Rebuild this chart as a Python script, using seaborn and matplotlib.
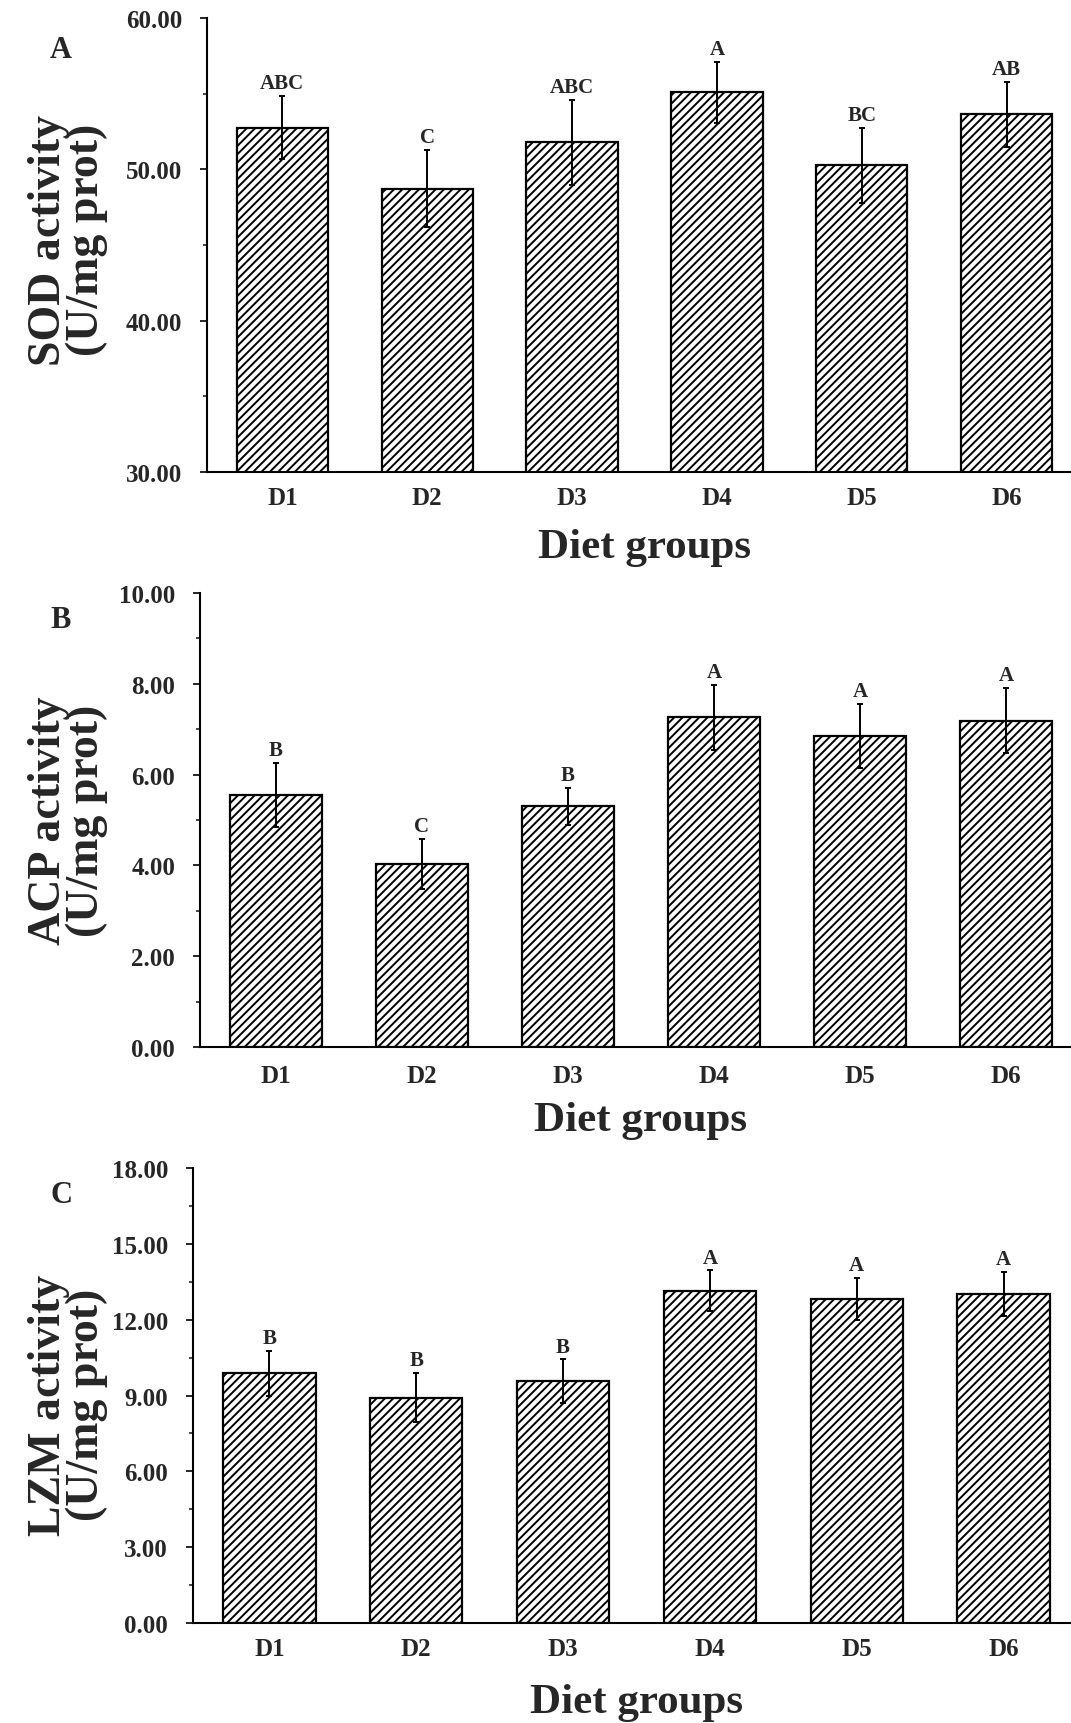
import numpy as np
import seaborn as sns
import matplotlib
matplotlib.use('Agg')
import matplotlib.pyplot as plt
from matplotlib.ticker import AutoMinorLocator, FormatStrFormatter

groups = ['D1', 'D2', 'D3', 'D4', 'D5', 'D6']

# SOD activity (U/mg prot)
sod_mean = [52.75, 48.71, 51.78, 55.09, 50.27, 53.65]
sod_err = [2.10, 2.55, 2.79, 2.00, 2.48, 2.15]
sod_letters = ['ABC', 'C', 'ABC', 'A', 'BC', 'AB']

# ACP activity (U/mg prot)
acp_mean = [5.55, 4.03, 5.30, 7.26, 6.85, 7.19]
acp_err = [0.70, 0.55, 0.40, 0.71, 0.71, 0.72]
acp_letters = ['B', 'C', 'B', 'A', 'A', 'A']

# LZM activity (U/mg prot)
lzm_mean = [9.88, 8.92, 9.56, 13.14, 12.81, 13.01]
lzm_err = [0.90, 0.96, 0.87, 0.81, 0.83, 0.88]
lzm_letters = ['B', 'B', 'B', 'A', 'A', 'A']

sns.set_style('ticks')
plt.rcParams['font.family'] = ['Liberation Serif', 'DejaVu Serif']
plt.rcParams['font.weight'] = 'bold'
plt.rcParams['hatch.linewidth'] = 1.4
plt.rcParams['hatch.color'] = 'black'


def panel(fig, rect, means, errs, letters, ylim, yticks, ylabel, tag, tag_y,
          label_y, tickpad, xlabpad):
    ax = fig.add_axes(rect)
    sns.barplot(x=groups, y=means, ax=ax, color='white', saturation=1,
                edgecolor='black', linewidth=1.6, width=0.63, errorbar=None,
                hatch='////', zorder=2)
    ax.errorbar(range(len(groups)), means, yerr=errs, fmt='none',
                ecolor='black', elinewidth=1.4, capsize=2.2, capthick=1.4,
                zorder=3)
    for i, (m, e, t) in enumerate(zip(means, errs, letters)):
        ax.annotate(t, (i, m + e), xytext=(0, 2), textcoords='offset points',
                    ha='center', va='bottom', fontsize=15, fontweight='bold')
    ax.set_xlim(-0.52, 5.52)
    ax.set_ylim(*ylim)
    ax.set_yticks(yticks)
    ax.yaxis.set_minor_locator(AutoMinorLocator(2))
    ax.yaxis.set_major_formatter(FormatStrFormatter('%.2f'))
    for s in ['top', 'right']:
        ax.spines[s].set_visible(False)
    for s in ['left', 'bottom']:
        ax.spines[s].set_linewidth(1.5)
        ax.spines[s].set_color('black')
    ax.tick_params(axis='y', which='major', length=5, width=1.4, pad=13,
                   labelsize=18, direction='out')
    ax.tick_params(axis='y', which='minor', length=3, width=1.2, direction='out')
    ax.tick_params(axis='x', length=0, pad=tickpad, labelsize=18)
    ax.set_xlabel('Diet groups', fontsize=31, fontweight='bold', labelpad=xlabpad)
    ax.set_ylabel('')
    fig.text(68 / 1071, label_y, ylabel, rotation=90, ha='center', va='center',
             fontsize=33, fontweight='bold', linespacing=0.88,
             multialignment='center')
    fig.text(61 / 1071, tag_y, tag, ha='center', va='center', fontsize=22,
             fontweight='bold')
    return ax


fig = plt.figure(figsize=(10.71, 17.24), dpi=100)
H = 1724.0

panel(fig, [207 / 1071, 1 - 473 / H, 875 / 1071, 454 / H], sod_mean, sod_err,
      sod_letters, (30, 60), [30, 40, 50, 60], 'SOD activity\n(U/mg prot)', 'A',
      1 - 50 / H, 1 - 240 / H, 10, 14)
panel(fig, [200 / 1071, 1 - 1048 / H, 882 / 1071, 454 / H], acp_mean, acp_err,
      acp_letters, (0, 10), np.arange(0, 11, 2), 'ACP activity\n(U/mg prot)', 'B',
      1 - 621 / H, 1 - 821 / H, 12, 10)
panel(fig, [193 / 1071, 1 - 1624 / H, 887 / 1071, 455 / H], lzm_mean, lzm_err,
      lzm_letters, (0, 18), np.arange(0, 19, 3), 'LZM activity\n(U/mg prot)', 'C',
      1 - 1196 / H, 1 - 1405 / H, 10, 17)

fig.savefig('out.png', dpi=100)
